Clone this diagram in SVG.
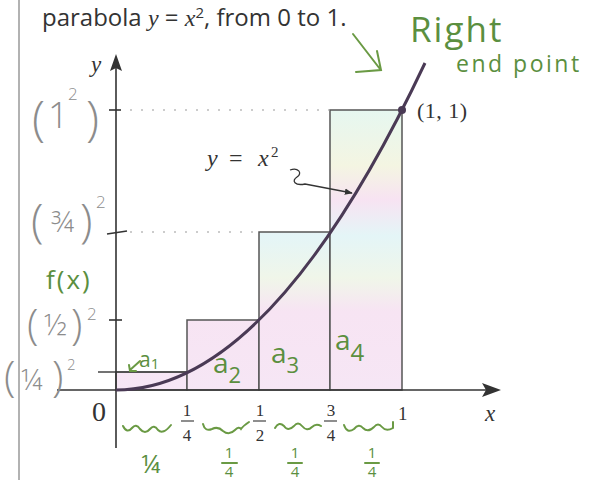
<svg xmlns="http://www.w3.org/2000/svg" width="598" height="480" viewBox="0 0 598 480">
<defs>
<linearGradient id="fill" gradientUnits="userSpaceOnUse" x1="0" y1="110" x2="0" y2="390">
<stop offset="0" stop-color="#e6f7f0"/>
<stop offset="0.2" stop-color="#f4f5e2"/>
<stop offset="0.32" stop-color="#f7e3f2"/>
<stop offset="0.45" stop-color="#e4f5f7"/>
<stop offset="0.6" stop-color="#f0f6e9"/>
<stop offset="0.72" stop-color="#f7e4f3"/>
<stop offset="1" stop-color="#f6e6f5"/>
</linearGradient>
<marker id="ah" viewBox="0 0 10 10" refX="9" refY="5" markerWidth="8" markerHeight="8" orient="auto" markerUnits="userSpaceOnUse">
<path d="M0,1 L10,5 L0,9 Z" fill="#333"/>
</marker>
<style>
.rect{fill:url(#fill);stroke:#555;stroke-width:1.5}
.axis{stroke:#333;stroke-width:1.6;fill:none}
.dot{stroke:#999;stroke-width:1.2;stroke-dasharray:2 9;fill:none}
.serif{font-family:"Liberation Serif","DejaVu Serif",serif;fill:#333}
.hand{font-family:"Open Sans","DejaVu Sans",sans-serif;font-weight:400;fill:#5b8f3f}
.gray{font-family:"Open Sans","DejaVu Sans",sans-serif;font-weight:300;fill:#8c8c8c}
.brace{stroke:#6a9a44;stroke-width:2;fill:none;stroke-linecap:round}
</style>
</defs>
<rect width="598" height="480" fill="#fff"/>
<line x1="19" y1="0" x2="19" y2="480" stroke="#999" stroke-width="1.5"/>
<text x="42" y="26" font-family="Open Sans, sans-serif" font-size="24" fill="#333">parabola <tspan font-family="Liberation Serif, serif" font-style="italic">y</tspan> = <tspan font-family="Liberation Serif, serif" font-style="italic">x</tspan><tspan font-size="15" dy="-8">2</tspan><tspan dy="8">, from 0 to 1.</tspan></text>

<g id="rectangles">
<rect class="rect" x="116" y="372" width="71" height="18"/>
<rect class="rect" x="187" y="320" width="72" height="70"/>
<rect class="rect" x="259" y="232" width="71" height="158"/>
<rect class="rect" x="330" y="110" width="72" height="280"/>
<line x1="98" y1="372" x2="187" y2="372" stroke="#444" stroke-width="1.5"/>
</g>

<g id="guides">
<line class="dot" x1="130" y1="110" x2="330" y2="110"/>
<line class="dot" x1="130" y1="232" x2="259" y2="232"/>
</g>

<g id="axes">
<line class="axis" x1="116" y1="66" x2="116" y2="448"/>
<path d="M116,54 L122,71 L116,68 L110,71 Z" fill="#333"/>
<line class="axis" x1="57" y1="390" x2="488" y2="390"/>
<path d="M501,390 L482,383 L486,390 L482,397 Z" fill="#333"/>
<line class="axis" x1="109" y1="110" x2="121" y2="110"/>
<line class="axis" x1="107" y1="234" x2="127" y2="231"/>
<line class="axis" x1="109" y1="320" x2="122" y2="320"/>
</g>

<g id="curve">
<path d="M116,390 Q270.5,390 425,63" fill="none" stroke="#4a3a55" stroke-width="3"/>
<circle cx="402" cy="110" r="4" fill="#4a3a55"/>
</g>

<g id="connectors">
<path d="M290,170 c8,-3 13,3 7,7 c-6,4 -2,9 8,7 L352,193" fill="none" stroke="#333" stroke-width="1.3" marker-end="url(#ah)"/>
<path d="M353,34 L380,69 M356,72 L381,70 L377,51" class="brace"/>
<path d="M140,361 L130,370 M129,365 L130,371 L136,371" class="brace" stroke-width="1.6"/>
</g>

<g id="labels">
<text class="serif" x="91" y="72" font-size="23" font-style="italic">y</text>
<text class="serif" x="417" y="118" font-size="22" letter-spacing="0.5">(1, 1)</text>
<text class="serif" font-size="24"><tspan x="207" y="166" font-style="italic">y</tspan><tspan x="229" y="166">=</tspan><tspan x="258" y="166" font-style="italic">x</tspan><tspan x="271" y="157" font-size="15">2</tspan></text>
<text class="serif" x="92" y="421" font-size="28">0</text>
<g font-size="17" text-anchor="middle">
<text class="serif" x="187" y="416">1</text><text class="serif" x="187" y="441">4</text>
<text class="serif" x="260" y="416">1</text><text class="serif" x="260" y="441">2</text>
<text class="serif" x="331" y="416">3</text><text class="serif" x="331" y="441">4</text>
</g>
<g stroke="#444" stroke-width="1.2">
<line x1="181" y1="421" x2="194" y2="421"/>
<line x1="253" y1="421" x2="266" y2="421"/>
<line x1="324" y1="421" x2="337" y2="421"/>
</g>
<text class="serif" x="398" y="420" font-size="19">1</text>
<text class="serif" x="485" y="421" font-size="23" font-style="italic">x</text>
</g>

<g id="handwriting">
<text class="hand" x="410" y="42" font-size="35" letter-spacing="2">Right</text>
<text class="hand" x="456" y="72" font-size="23" letter-spacing="2.5">end point</text>
<text class="hand" x="46" y="289" font-size="26" letter-spacing="2">f(x)</text>
<text class="hand" x="139" y="367" font-size="21">a<tspan font-size="15" dy="2">1</tspan></text>
<text class="hand" x="213" y="373" font-size="28">a<tspan font-size="22" dy="10">2</tspan></text>
<text class="hand" x="271" y="363" font-size="28">a<tspan font-size="22" dy="10">3</tspan></text>
<text class="hand" x="335" y="350" font-size="28">a<tspan font-size="24" dy="11">4</tspan></text>

<text class="gray" x="32" y="135" font-size="48">(</text>
<text class="gray" x="48" y="128" font-size="36">1</text>
<text class="gray" x="68" y="100" font-size="17">2</text>
<text class="gray" x="86" y="135" font-size="48">)</text>

<text class="gray" x="31" y="237" font-size="46">(</text>
<text class="gray" x="51" y="232" font-size="30">¾</text>
<text class="gray" x="80" y="237" font-size="46">)</text>
<text class="gray" x="96" y="208" font-size="17">2</text>

<text class="gray" x="27" y="339" font-size="42">(</text>
<text class="gray" x="44" y="335" font-size="30">½</text>
<text class="gray" x="71" y="339" font-size="42">)</text>
<text class="gray" x="87" y="320" font-size="17">2</text>

<text class="gray" x="4" y="391" font-size="42">(</text>
<text class="gray" x="21" y="390" font-size="30">¼</text>
<text class="gray" x="52" y="391" font-size="42">)</text>
<text class="gray" x="67" y="370" font-size="15">2</text>

<path class="brace" d="M123,426 q4,8 9,2 q4,-5 8,1 q5,6 10,0 q4,-5 8,1 q5,5 13,-5"/>
<path class="brace" d="M203,424 q2,8 9,5 q6,-3 11,2 q6,5 12,-1 q4,-4 6,-1 q2,-3 8,-7"/>
<path class="brace" d="M275,428 q4,-7 9,-2 q4,6 10,0 q4,-5 8,0 q5,6 10,1 q4,-4 9,-1"/>
<path class="brace" d="M344,425 q3,9 10,4 q5,-6 9,-1 q5,5 11,-1 q4,-5 8,0 q4,5 11,1 l0,-6"/>

<text class="hand" x="141" y="473" font-size="26">¼</text>
<text class="hand" x="229" y="458" font-size="15" text-anchor="middle">1</text>
<line x1="222" y1="463" x2="237" y2="463" class="brace" stroke-width="1.6"/>
<text class="hand" x="229" y="477" font-size="15" text-anchor="middle">4</text>
<text class="hand" x="295" y="458" font-size="15" text-anchor="middle">1</text>
<line x1="288" y1="463" x2="302" y2="463" class="brace" stroke-width="1.6"/>
<text class="hand" x="295" y="477" font-size="15" text-anchor="middle">4</text>
<text class="hand" x="372" y="458" font-size="15" text-anchor="middle">1</text>
<line x1="365" y1="463" x2="379" y2="463" class="brace" stroke-width="1.6"/>
<text class="hand" x="372" y="477" font-size="15" text-anchor="middle">4</text>
</g>
</svg>
